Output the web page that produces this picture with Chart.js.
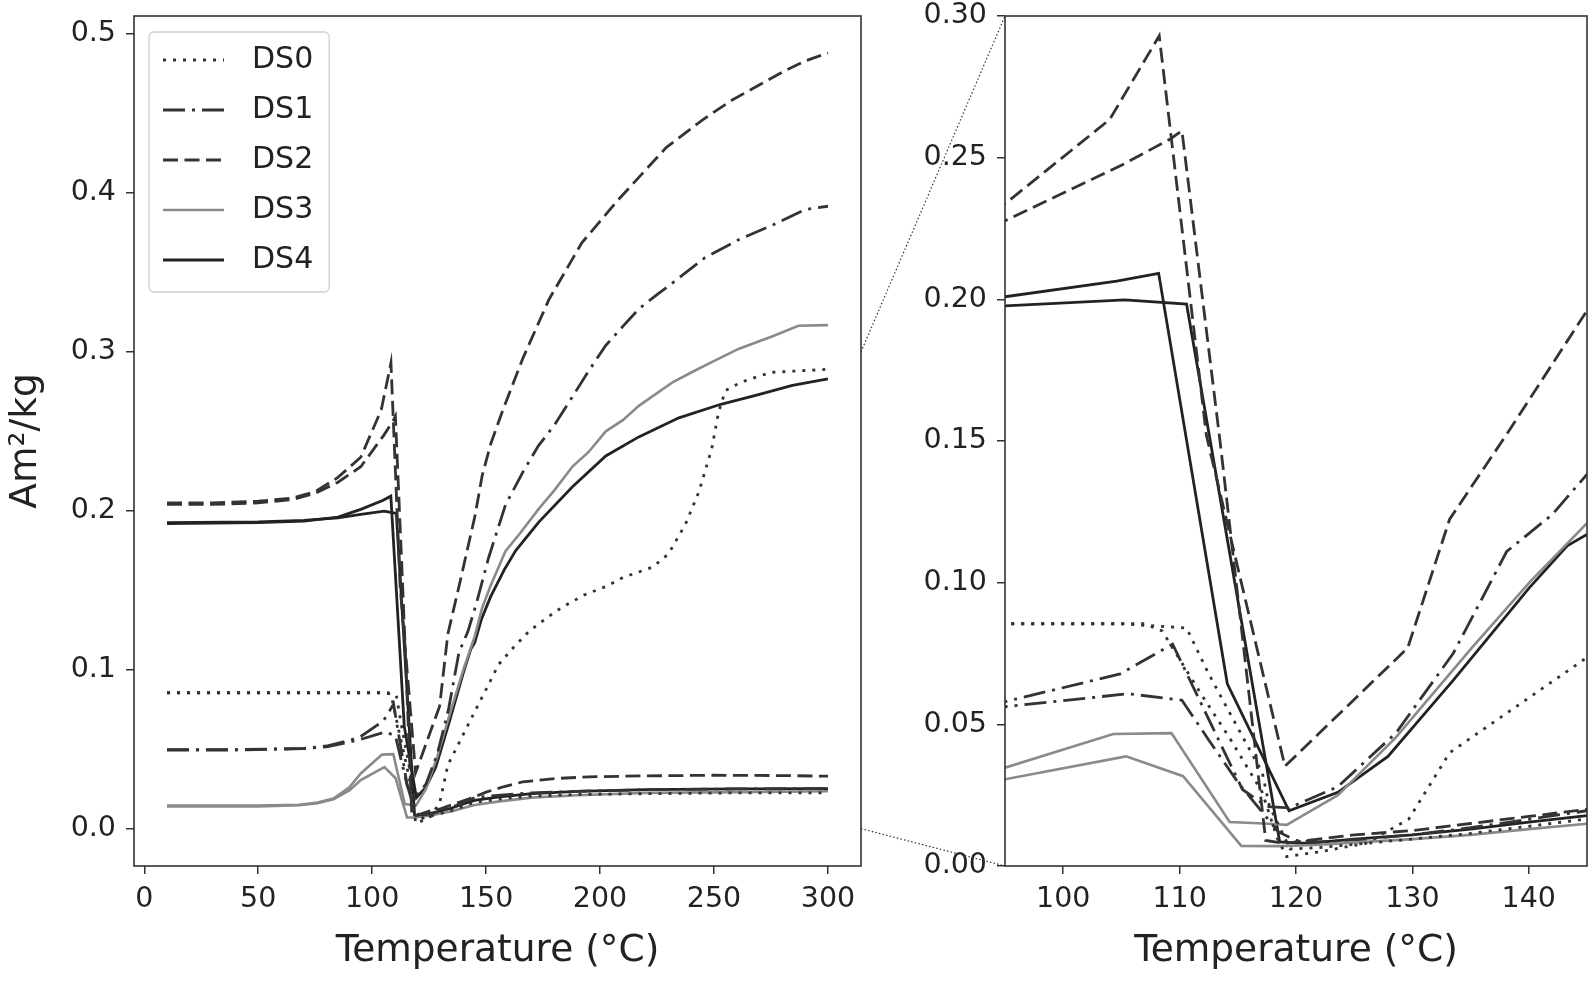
<!DOCTYPE html>
<html>
<head>
<meta charset="utf-8">
<script src="https://cdn.jsdelivr.net/npm/chart.js@4.4.0/dist/chart.umd.min.js"></script>
<style>
  html, body { margin: 0; padding: 0; background: #fff; }
  #wrap { position: relative; width: 1595px; height: 982px; }
  #wrap canvas { position: absolute; top: 0; }
</style>
</head>
<body>
<div id="wrap">
  <canvas id="leftChart" width="880" height="982" style="left:0"></canvas>
  <canvas id="rightChart" width="715" height="982" style="left:880px"></canvas>
  <canvas id="links" width="1595" height="982" style="left:0;pointer-events:none"></canvas>
</div>
<script>
// temperatures (°C) and magnetisation (Am²/kg), two branches per sample
const ds0aT = [10, 50, 95, 107, 108.5, 111.8, 114.4, 117.1, 118.4, 119.2, 122, 126, 129.7, 133.2, 139, 145, 150, 155.6, 162, 169, 177, 183, 193, 203, 210, 223, 230, 237.5, 243.4, 249, 252, 255, 262, 275, 300];
const ds0aM = [0.0855, 0.0855, 0.0855, 0.0855, 0.083, 0.061, 0.0445, 0.026, 0.0097, 0.0033, 0.005, 0.008, 0.0166, 0.040, 0.0565, 0.0736, 0.0877, 0.1035, 0.114, 0.1244, 0.133, 0.139, 0.147, 0.1526, 0.158, 0.1645, 0.1728, 0.1916, 0.212, 0.239, 0.262, 0.2756, 0.281, 0.2871, 0.289];
const ds0bT = [10, 50, 95, 105, 110.6, 112.5, 115.1, 117.1, 117.7, 119.5, 122, 126, 130, 135, 140, 145, 155, 170, 190, 220, 260, 300];
const ds0bM = [0.0855, 0.0855, 0.0855, 0.0855, 0.084, 0.0678, 0.048, 0.033, 0.0213, 0.006, 0.0065, 0.008, 0.0095, 0.0115, 0.014, 0.0166, 0.0185, 0.0205, 0.0215, 0.022, 0.0225, 0.0225];

const ds1aT = [10, 40, 70, 80, 90, 95, 104.9, 109.4, 115.4, 117.5, 119.4, 123.6, 128.6, 133.5, 138.1, 142, 146, 151, 158.5, 166, 173, 180, 188, 195, 202.5, 210, 217, 225, 232, 246, 261, 276, 290, 300];
const ds1aM = [0.0497, 0.0497, 0.0505, 0.052, 0.0555, 0.058, 0.0678, 0.0783, 0.027, 0.021, 0.0205, 0.028, 0.047, 0.075, 0.111, 0.124, 0.143, 0.17, 0.2037, 0.224, 0.241, 0.254, 0.272, 0.288, 0.304, 0.316, 0.327, 0.336, 0.3436, 0.3592, 0.3707, 0.380, 0.3895, 0.3916];
const ds1bT = [10, 40, 70, 80, 90, 95, 105.6, 110.2, 112.5, 115.1, 117.1, 118.5, 120, 122, 126, 130, 135, 140, 145, 155, 170, 190, 220, 260, 300];
const ds1bM = [0.0495, 0.0495, 0.0503, 0.0515, 0.0545, 0.0562, 0.0608, 0.0585, 0.0445, 0.029, 0.019, 0.012, 0.009, 0.0085, 0.0095, 0.011, 0.0135, 0.0165, 0.0195, 0.021, 0.0225, 0.0235, 0.0245, 0.025, 0.0252];

const ds2aT = [10, 30, 50, 65, 75, 85, 95, 104, 108.25, 112.3, 119.05, 129.6, 133.2, 138.2, 145, 148.3, 152, 157, 166, 177.6, 192, 208, 229, 245, 258, 270, 280, 290, 300];
const ds2aM = [0.205, 0.205, 0.206, 0.208, 0.212, 0.221, 0.2337, 0.2635, 0.293, 0.152, 0.0352, 0.077, 0.1224, 0.153, 0.196, 0.2223, 0.242, 0.262, 0.2955, 0.333, 0.3686, 0.3957, 0.4285, 0.446, 0.4585, 0.468, 0.476, 0.483, 0.488];
const ds2bT = [10, 30, 50, 65, 75, 85, 95, 105, 109.2, 110.2, 113.5, 117.4, 119, 121, 125, 130, 135, 140, 145, 150, 158, 166, 180, 195, 220, 250, 280, 300];
const ds2bM = [0.204, 0.204, 0.205, 0.207, 0.211, 0.218, 0.2277, 0.2473, 0.2566, 0.2595, 0.149, 0.009, 0.008, 0.009, 0.011, 0.0125, 0.015, 0.0175, 0.020, 0.023, 0.0265, 0.0294, 0.0315, 0.0326, 0.0332, 0.0336, 0.0334, 0.033];

const ds3aT = [10, 50, 68, 76, 83, 90, 95, 104.3, 109.3, 114.3, 117.7, 119.2, 123.6, 128.6, 135.1, 140.1, 145, 148.3, 152, 158.5, 165, 173, 180, 188, 195, 202.5, 210, 217, 225, 232, 240, 249, 261, 276, 287, 300];
const ds3aM = [0.0145, 0.0145, 0.015, 0.0165, 0.019, 0.026, 0.0347, 0.0466, 0.0469, 0.0155, 0.0149, 0.0145, 0.025, 0.0455, 0.077, 0.1003, 0.121, 0.139, 0.153, 0.1745, 0.186, 0.201, 0.213, 0.228, 0.237, 0.25, 0.257, 0.266, 0.274, 0.281, 0.287, 0.2935, 0.302, 0.310, 0.3164, 0.3168];
const ds3bT = [10, 50, 68, 76, 83, 90, 95, 105.4, 110.3, 115.3, 118.7, 122, 126, 130, 135, 140, 145, 155, 170, 190, 220, 260, 300];
const ds3bM = [0.014, 0.014, 0.0148, 0.016, 0.0185, 0.024, 0.0306, 0.0387, 0.0317, 0.0071, 0.007, 0.0075, 0.0085, 0.0095, 0.011, 0.013, 0.0149, 0.017, 0.0195, 0.021, 0.0225, 0.023, 0.0235];

const ds4aT = [10, 50, 70, 85, 95, 104.6, 108.2, 114.1, 119.4, 123.6, 127.9, 133.5, 140, 143.3, 145, 148, 152, 158, 163, 173.2, 187.8, 202.5, 217, 234.6, 253, 268.3, 284.4, 300];
const ds4aM = [0.192, 0.1925, 0.1935, 0.196, 0.2009, 0.2064, 0.2092, 0.0643, 0.0195, 0.026, 0.0387, 0.0655, 0.098, 0.113, 0.117, 0.132, 0.146, 0.163, 0.175, 0.193, 0.215, 0.2345, 0.2465, 0.2585, 0.267, 0.2726, 0.2789, 0.283];
const ds4bT = [10, 50, 70, 85, 95, 105.3, 110.6, 118.6, 121, 125, 130, 135, 140, 145, 155, 170, 190, 220, 260, 300];
const ds4bM = [0.1925, 0.193, 0.194, 0.1955, 0.1977, 0.1998, 0.1983, 0.0085, 0.008, 0.0095, 0.011, 0.013, 0.0155, 0.0178, 0.0198, 0.022, 0.0235, 0.0245, 0.025, 0.0252];

const seriesNames = ['DS0', 'DS1', 'DS2', 'DS3', 'DS4'];
const branches = [
  [[ds0aT, ds0aM], [ds0bT, ds0bM]],
  [[ds1aT, ds1aM], [ds1bT, ds1bM]],
  [[ds2aT, ds2aM], [ds2bT, ds2bM]],
  [[ds3aT, ds3aM], [ds3bT, ds3bM]],
  [[ds4aT, ds4aM], [ds4bT, ds4bM]]
];

// axis ranges and tick values
const leftXRange = [-4.5, 314.5];
const leftYRange = [-0.0235, 0.5113];
const rightXRange = [95, 145];
const rightYRange = [0, 0.30];
const leftXTickValues = [0, 50, 100, 150, 200, 250, 300];
const leftYTickValues = [0.0, 0.1, 0.2, 0.3, 0.4, 0.5];
const rightXTickValues = [100, 110, 120, 130, 140];
const rightYTickValues = [0.00, 0.05, 0.10, 0.15, 0.20, 0.25, 0.30];

// line looks per sample
const styles = [
  { color: '#333', width: 2.8, dash: [3, 7] },
  { color: '#333', width: 2.8, dash: [22, 7, 3, 7] },
  { color: '#333', width: 2.8, dash: [15, 6.5] },
  { color: '#8a8a8a', width: 2.6, dash: [] },
  { color: '#222', width: 2.8, dash: [] }
];

Chart.defaults.font.family = "'DejaVu Sans', sans-serif";
Chart.defaults.color = '#222';

function buildDatasets() {
  const out = [];
  branches.forEach((pair, i) => {
    pair.forEach(([ts, ms]) => {
      out.push({
        label: seriesNames[i],
        data: ts.map((t, k) => ({ x: t, y: ms[k] })),
        borderColor: styles[i].color,
        borderWidth: styles[i].width,
        borderDash: styles[i].dash,
        borderCapStyle: 'butt',
        pointRadius: 0,
        pointHoverRadius: 0,
        fill: false,
        tension: 0,
        styleIndex: i
      });
    });
  });
  return out;
}

// small line sample used as the legend marker (line, then a gap before the text)
function legendGlyph(st) {
  const c = document.createElement('canvas');
  c.width = 74;
  c.height = 12;
  const g = c.getContext('2d');
  g.strokeStyle = st.color;
  g.lineWidth = st.width;
  g.lineCap = 'butt';
  g.setLineDash(st.dash);
  g.beginPath();
  g.moveTo(0, 6);
  g.lineTo(61, 6);
  g.stroke();
  return c;
}

// axes frame (all four spines)
const framePlugin = {
  id: 'frame',
  afterDraw(chart) {
    const { ctx, chartArea: a } = chart;
    ctx.save();
    ctx.strokeStyle = '#333';
    ctx.lineWidth = 1.6;
    ctx.strokeRect(a.left, a.top, a.right - a.left, a.bottom - a.top);
    ctx.restore();
  }
};

// legend inside the plot, upper left, with a light box
const legendBoxPlugin = {
  id: 'legendBox',
  afterLayout(chart) {
    const lg = chart.legend, a = chart.chartArea;
    lg.left = a.left + 9;
    lg.top = a.top + 9;
    lg.bottom = a.bottom;
    lg.right = lg.left + lg.width;
  },
  afterDraw(chart) {
    const boxes = chart.legend.legendHitBoxes;
    if (!boxes || !boxes.length) return;
    let l = Infinity, t = Infinity, r = -Infinity, b = -Infinity;
    boxes.forEach(h => {
      l = Math.min(l, h.left); t = Math.min(t, h.top);
      r = Math.max(r, h.left + h.width); b = Math.max(b, h.top + h.height);
    });
    const ctx = chart.ctx;
    ctx.save();
    ctx.strokeStyle = '#cfcfcf';
    ctx.lineWidth = 1.3;
    ctx.beginPath();
    ctx.roundRect(l - 14, t - 13, (r + 16) - (l - 14), (b + 17) - (t - 13), 5);
    ctx.stroke();
    ctx.restore();
  }
};

function legendLabels(chart) {
  return Chart.defaults.plugins.legend.labels.generateLabels(chart).map(item => {
    const ds = chart.data.datasets[item.datasetIndex];
    return Object.assign(item, { pointStyle: legendGlyph(styles[ds.styleIndex]), rotation: 0 });
  });
}

function makeChart(id, cfg) {
  const tickFont = { size: 28.5 };
  const titleFont = { size: 37.5 };
  return new Chart(document.getElementById(id), {
    type: 'line',
    data: { datasets: buildDatasets() },
    options: {
      responsive: false,
      animation: false,
      devicePixelRatio: 1,
      layout: { padding: { left: 0, top: 16, right: cfg.padRight, bottom: 0 } },
      plugins: {
        legend: cfg.legend ? {
          display: true,
          position: 'chartArea',
          align: 'start',
          labels: {
            usePointStyle: true,
            pointStyleWidth: 74,
            padding: 20,
            color: '#222',
            font: { size: 30 },
            generateLabels: legendLabels,
            filter: item => item.datasetIndex % 2 === 0
          }
        } : { display: false },
        tooltip: { enabled: false }
      },
      scales: {
        x: {
          type: 'linear',
          min: cfg.xRange[0], max: cfg.xRange[1],
          afterBuildTicks: s => { s.ticks = cfg.xTicks.map(v => ({ value: v })); },
          ticks: { font: tickFont, padding: 8, maxRotation: 0, callback: v => String(Math.round(v)) },
          grid: { drawOnChartArea: false, drawTicks: true, tickLength: 8, color: '#333', lineWidth: 1.5 },
          border: { display: false },
          title: { display: true, text: 'Temperature (°C)', font: titleFont, color: '#222', padding: { top: 0, bottom: 8 } },
          afterFit: s => { s.height = 116; s.paddingLeft = 0; s.paddingRight = 0; }
        },
        y: {
          type: 'linear',
          min: cfg.yRange[0], max: cfg.yRange[1],
          afterBuildTicks: s => { s.ticks = cfg.yTicks.map(v => ({ value: v })); },
          ticks: { font: tickFont, padding: 10, callback: v => v.toFixed(cfg.decimals) },
          grid: { drawOnChartArea: false, drawTicks: true, tickLength: 8, color: '#333', lineWidth: 1.5 },
          border: { display: false },
          title: cfg.yTitle ? { display: true, text: cfg.yTitle, font: titleFont, color: '#222', padding: { top: 4, bottom: 0 } } : { display: false },
          afterFit: s => { s.width = cfg.yWidth; s.paddingTop = 0; s.paddingBottom = 0; }
        }
      }
    },
    plugins: cfg.legend ? [framePlugin, legendBoxPlugin] : [framePlugin]
  });
}

const leftChart = makeChart('leftChart', {
  xRange: leftXRange, yRange: leftYRange, xTicks: leftXTickValues, yTicks: leftYTickValues,
  decimals: 1, yTitle: 'Am²/kg', legend: true, yWidth: 134, padRight: 19
});
const rightChart = makeChart('rightChart', {
  xRange: rightXRange, yRange: rightYRange, xTicks: rightXTickValues, yTicks: rightYTickValues,
  decimals: 2, yTitle: null, legend: false, yWidth: 125, padRight: 8
});

// dotted connectors between the main panel and the zoomed panel
function drawLinks() {
  const ctx = document.getElementById('links').getContext('2d');
  const offset = 880;
  ctx.save();
  ctx.strokeStyle = '#333';
  ctx.lineWidth = 1.2;
  ctx.setLineDash([1.5, 2.2]);
  [rightYRange[1], rightYRange[0]].forEach(v => {
    ctx.beginPath();
    ctx.moveTo(leftChart.chartArea.right, leftChart.scales.y.getPixelForValue(v));
    ctx.lineTo(offset + rightChart.scales.x.getPixelForValue(rightXRange[0]), rightChart.scales.y.getPixelForValue(v));
    ctx.stroke();
  });
  ctx.restore();
}
drawLinks();
</script>
</body>
</html>
